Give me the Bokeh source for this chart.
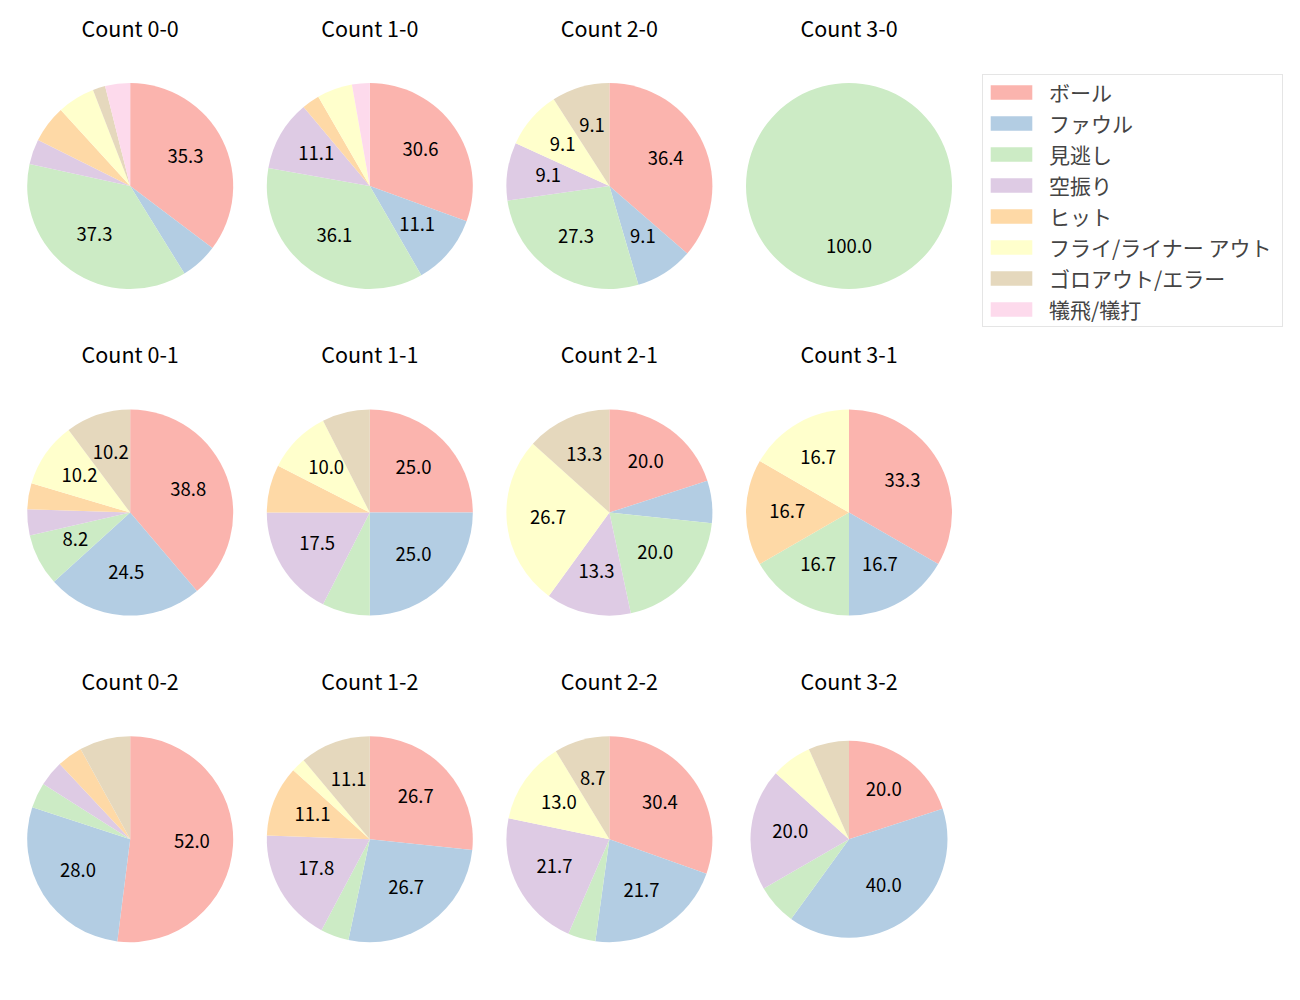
import numpy as np
from bokeh.plotting import figure
from bokeh.models import ColumnDataSource, Range1d, Legend, LegendItem
from bokeh.core.properties import value
from bokeh.embed import file_html
from bokeh.resources import INLINE

# ---- data -------------------------------------------------------------
counts = ["0-0", "1-0", "2-0", "3-0", "0-1", "1-1", "2-1", "3-1",
          "0-2", "1-2", "2-2", "3-2"]
categories = ["ボール", "ファウル", "見逃し", "空振り", "ヒット",
              "フライ/ライナー アウト", "ゴロアウト/エラー", "犠飛/犠打"]
ball     = [18, 11, 4, 0, 19, 10, 3, 2, 13, 12, 7, 3]
foul     = [3, 4, 1, 0, 12, 10, 1, 1, 7, 12, 5, 6]
called   = [19, 13, 3, 1, 4, 3, 3, 1, 1, 2, 1, 1]
swinging = [2, 4, 1, 0, 2, 7, 2, 0, 1, 8, 5, 3]
hit      = [3, 1, 0, 0, 2, 3, 0, 1, 1, 5, 0, 0]
fly      = [3, 2, 1, 0, 5, 4, 4, 1, 0, 1, 3, 1]
grounder = [1, 0, 1, 0, 5, 3, 2, 0, 2, 5, 2, 1]
sacrifice = [2, 1, 0, 0, 0, 0, 0, 0, 0, 0, 0, 0]
series = [ball, foul, called, swinging, hit, fly, grounder, sacrifice]

colors = ["#fbb4ae", "#b3cde3", "#ccebc5", "#decbe4",
          "#fed9a6", "#ffffcc", "#e5d8bd", "#fddaec"]

# ---- layout -------------------------------------------------------------
W, H = 1300, 1000
FONT = "Noto Sans CJK JP"
col_x = [129.7 + 239.6 * j for j in range(4)]
row_y = [185.5 + 326.6 * i for i in range(3)]
radii = [103.0] * 11 + [98.5]
title_off = 159.0
text_lift = 2.0

vals = np.array(series, dtype=float)
tot = vals.sum(axis=0)
frac = vals / tot
cum = np.vstack([np.zeros(vals.shape[1]), np.cumsum(frac, axis=0)])

p = figure(width=W, height=H, x_range=Range1d(0, W), y_range=Range1d(0, H),
           output_backend="svg", toolbar_location=None,
           x_axis_location=None, y_axis_location=None,
           min_border=0, outline_line_color=None)
p.grid.visible = False
p.background_fill_color = "white"
p.border_fill_color = "white"

items = []
lab_x, lab_y, lab_t = [], [], []
for k, cat in enumerate(categories):
    xs, ys, rs, st, en = [], [], [], [], []
    for i in range(len(counts)):
        if vals[k, i] <= 0:
            continue
        cx = col_x[i % 4]
        cy = H - row_y[i // 4]
        a0 = np.pi / 2 - 2 * np.pi * cum[k, i]
        a1 = np.pi / 2 - 2 * np.pi * cum[k + 1, i]
        if frac[k, i] >= 1.0:
            a1 = a0 - 2 * np.pi + 1e-5
        xs.append(cx); ys.append(cy); rs.append(radii[i])
        st.append(a1); en.append(a0)
        pct = 100 * frac[k, i]
        if pct > 8:
            mid = np.pi / 2 - np.pi * (cum[k, i] + cum[k + 1, i])
            lab_x.append(cx + 0.6 * radii[i] * np.cos(mid))
            lab_y.append(cy + 0.6 * radii[i] * np.sin(mid) + text_lift)
            lab_t.append(f"{pct:.1f}")
    src = ColumnDataSource(dict(x=xs, y=ys, r=rs, s=st, e=en))
    rr = p.wedge(x="x", y="y", radius="r", start_angle="s", end_angle="e",
                 direction="anticlock", source=src,
                 fill_color=colors[k], line_color=None)
    items.append(LegendItem(label=cat, renderers=[rr]))

p.text(x=lab_x, y=lab_y, text=lab_t, text_align="center",
       text_baseline="middle", text_font=value(FONT),
       text_font_size="18.5px", text_color="black")

tx = [col_x[i % 4] for i in range(len(counts))]
ty = [H - (row_y[i // 4] - title_off) for i in range(len(counts))]
tt = [f"Count {c}" for c in counts]
p.text(x=tx, y=ty, text=tt, text_align="center", text_baseline="middle",
       text_font=value(FONT), text_font_size="21.5px", text_color="black")

legend = Legend(items=items, location=(982, H - 327), orientation="vertical",
                glyph_width=52, glyph_height=18, label_standoff=12,
                spacing=1, padding=2, margin=0, label_width=231,
                label_text_font=FONT, label_text_font_size="21px",
                border_line_color="#cccccc", border_line_width=1,
                background_fill_color="white", background_fill_alpha=0.8)
p.add_layout(legend)

open("out.html", "w").write(file_html(p, INLINE))
